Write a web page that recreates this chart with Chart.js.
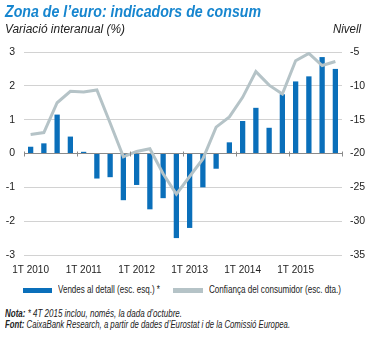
<!DOCTYPE html>
<html>
<head>
<meta charset="utf-8">
<script src="https://cdn.jsdelivr.net/npm/chart.js@4.4.0/dist/chart.umd.min.js"></script>
<style>
    body { margin: 0; background: #fff; }
    #wrap { position: relative; width: 382px; height: 338px; font-family: "Liberation Sans", Arial, sans-serif; color: #222; }
    #wrap canvas { position: absolute; left: 0; top: 0; }
    .txt { position: absolute; white-space: nowrap; transform-origin: 0 50%; line-height: 1; }
    #titol { left: 5px; top: 3px; font-size: 17px; font-weight: bold; font-style: italic; color: #1786cf; }
    #sub { left: 5px; top: 23px; font-size: 12px; font-style: italic; }
    #nivell { left: 333px; top: 23px; font-size: 12px; font-style: italic; }
    .lleg { top: 284px; font-size: 10.5px; }
    .mostra { position: absolute; height: 5px; }
    .nota { left: 5px; font-size: 10.5px; font-style: italic; }
</style>
</head>
<body>
<div id="wrap">
    <canvas id="grafic" width="382" height="280"></canvas>
    <div class="txt" id="titol" data-w="256">Zona de l’euro: indicadors de consum</div>
    <div class="txt" id="sub" data-w="120">Variació interanual (%)</div>
    <div class="txt" id="nivell" data-w="28">Nivell</div>
    <div class="mostra" style="left:23px; top:288px; width:29px; background:#0a6fba;"></div>
    <div class="txt lleg" style="left:58px;" data-w="102">Vendes al detall (esc. esq.) *</div>
    <div class="mostra" style="left:173px; top:288px; width:30px; background:#b5c3c7;"></div>
    <div class="txt lleg" style="left:209px;" data-w="132">Confiança del consumidor (esc. dta.)</div>
    <div class="txt nota" style="top:308px;" data-w="177"><b>Nota:</b> * 4T 2015 inclou, només, la dada d’octubre.</div>
    <div class="txt nota" style="top:319px;" data-w="285"><b>Font:</b> CaixaBank Research, a partir de dades d’Eurostat i de la Comissió Europea.</div>
</div>
<script>
// Trimestres 2010-2015
const trimestres = [];
for (let any = 2010; any <= 2015; any++) {
    for (let t = 1; t <= 4; t++) trimestres.push(t + 'T ' + any);
}

// Vendes al detall, variació interanual (%)
const vendes = [0.2, 0.3, 1.15, 0.5, 0.05, -0.74, -0.7, -1.38, -0.93, -1.65, -1.32, -2.5,
                -2.2, -1.0, -0.45, 0.33, 0.96, 1.35, 0.76, 1.75, 2.13, 2.28, 2.85, 2.5];

// Confiança del consumidor (nivell)
const confianca = [-17.2, -16.9, -12.5, -10.8, -10.9, -10.6, -15.5, -20.5, -19.7, -19.3, -23.0, -26.0,
                   -23.4, -20.8, -16.1, -14.6, -11.7, -7.9, -9.9, -11.2, -6.3, -5.2, -7.0, -6.4];

// Eixos
const eixEsq = { min: -3, max: 3, pas: 1 };
const eixDta = { min: -35, max: -5, pas: 5 };

// Ajustar l'amplada dels textos (la font original és estreta)
document.querySelectorAll('[data-w]').forEach(el => {
    const w = el.getBoundingClientRect().width;
    const objectiu = parseFloat(el.getAttribute('data-w'));
    el.style.transform = 'scaleX(' + (objectiu / w).toFixed(3) + ')';
});

// Petites marques sobre la línia del zero, als canvis d'any
const marquesAny = {
    id: 'marquesAny',
    afterDatasetsDraw(chart) {
        const ctx = chart.ctx;
        const x = chart.scales.x;
        const y0 = chart.scales.y.getPixelForValue(0);
        const amplada = x.getPixelForValue(1) - x.getPixelForValue(0);
        ctx.save();
        ctx.strokeStyle = '#8a8a8a';
        ctx.lineWidth = 1;
        for (let i = 0; i <= trimestres.length; i += 4) {
            const px = Math.round(x.getPixelForValue(0) - amplada / 2 + i * amplada) + 0.5;
            ctx.beginPath();
            ctx.moveTo(px, y0 - 2);
            ctx.lineTo(px, y0 + 3);
            ctx.stroke();
        }
        ctx.restore();
    }
};

const fontEixos = { family: '"Liberation Sans", Arial, sans-serif', size: 10.5 };

const ctx = document.getElementById('grafic').getContext('2d');
new Chart(ctx, {
    data: {
        labels: trimestres,
        datasets: [
            {
                type: 'line',
                label: 'Confiança del consumidor (esc. dta.)',
                data: confianca,
                yAxisID: 'y1',
                borderColor: '#b5c3c7',
                borderWidth: 3,
                pointRadius: 0,
                tension: 0,
                order: 0
            },
            {
                type: 'bar',
                label: 'Vendes al detall (esc. esq.) *',
                data: vendes,
                yAxisID: 'y',
                backgroundColor: '#0a6fba',
                barPercentage: 0.4,
                categoryPercentage: 1,
                order: 1
            }
        ]
    },
    options: {
        responsive: false,
        animation: false,
        layout: { padding: { top: 52, left: 0, right: 0, bottom: 0 } },
        plugins: {
            legend: { display: false },
            tooltip: { enabled: false }
        },
        scales: {
            x: {
                offset: true,
                grid: { display: false },
                border: { display: false },
                ticks: {
                    autoSkip: false,
                    maxRotation: 0,
                    padding: 1,
                    color: '#222',
                    font: { family: fontEixos.family, size: 10 },
                    callback: function(val, i) {
                        return i % 4 === 0 ? trimestres[i] : '';
                    }
                },
                afterFit: function(s) { s.height = 25; }
            },
            y: {
                position: 'left',
                min: eixEsq.min,
                max: eixEsq.max,
                ticks: {
                    stepSize: eixEsq.pas,
                    padding: 9,
                    color: '#222',
                    font: fontEixos
                },
                grid: {
                    drawTicks: false,
                    color: function(c) { return c.tick.value === 0 ? '#8a8a8a' : '#d2d2d2'; }
                },
                border: { display: false },
                afterFit: function(s) { s.width = 24; }
            },
            y1: {
                position: 'right',
                min: eixDta.min,
                max: eixDta.max,
                ticks: {
                    stepSize: eixDta.pas,
                    padding: 8,
                    color: '#222',
                    font: fontEixos
                },
                grid: { display: false, drawTicks: false },
                border: { display: false },
                afterFit: function(s) { s.width = 40; }
            }
        }
    },
    plugins: [marquesAny]
});
</script>
</body>
</html>
